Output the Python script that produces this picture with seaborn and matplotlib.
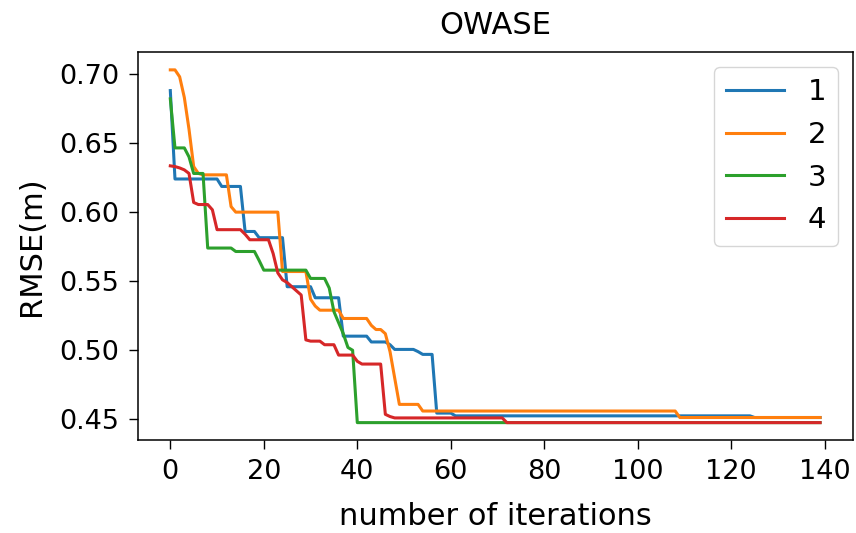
import numpy as np
import pandas as pd
import matplotlib
matplotlib.use("Agg")
import matplotlib.pyplot as plt
import seaborn as sns

# RMSE per iteration for four runs, stored as (level, run length) pairs
n_iter = 140

run1_levels = [0.688, 0.624, 0.6186, 0.586, 0.5815, 0.546, 0.538, 0.5102, 0.506, 0.504,
               0.5006, 0.499, 0.497, 0.4545, 0.4525, 0.4513]
run1_counts = [1, 10, 5, 3, 6, 6, 6, 6, 4, 1, 5, 1, 3, 4, 64, 15]

run2_levels = [0.703, 0.698, 0.683, 0.660, 0.633, 0.628, 0.627, 0.604, 0.600, 0.557,
               0.537, 0.532, 0.529, 0.523, 0.518, 0.515, 0.512, 0.499, 0.480, 0.4608,
               0.456, 0.4513]
run2_counts = [2, 1, 1, 1, 1, 1, 6, 1, 10, 6, 1, 1, 5, 6, 1, 2, 1, 1, 1, 5, 55, 31]

run3_levels = [0.682, 0.6465, 0.640, 0.628, 0.574, 0.5715, 0.565, 0.558, 0.552, 0.545,
               0.528, 0.520, 0.512, 0.502, 0.500, 0.4476]
run3_counts = [1, 3, 1, 3, 6, 5, 1, 10, 4, 1, 1, 1, 1, 1, 1, 100]

run4_levels = [0.6335, 0.633, 0.632, 0.6306, 0.628, 0.607, 0.6055, 0.6017, 0.5873, 0.584,
               0.580, 0.570, 0.556, 0.551, 0.549, 0.546, 0.543, 0.540, 0.5075, 0.5066,
               0.504, 0.4965, 0.492, 0.490, 0.4536, 0.452, 0.451, 0.4476]
run4_counts = [1, 1, 1, 1, 1, 1, 3, 1, 6, 1, 5, 1, 1, 1, 1, 1, 1, 1, 1, 3, 3, 4, 1, 5,
               1, 1, 24, 68]

run_labels = ["1", "2", "3", "4"]
run_colors = ["#1f77b4", "#ff7f0e", "#2ca02c", "#d62728"]

series = [(run1_levels, run1_counts), (run2_levels, run2_counts),
          (run3_levels, run3_counts), (run4_levels, run4_counts)]

frames = []
for label, (levels, counts) in zip(run_labels, series):
    values = np.repeat(levels, counts)
    frames.append(pd.DataFrame({"iteration": np.arange(len(values)),
                                "rmse": values, "run": label}))
df = pd.concat(frames, ignore_index=True)

fig, ax = plt.subplots(figsize=(8.56, 5.33), dpi=100)
fig.subplots_adjust(left=0.161, right=0.996, top=0.902, bottom=0.174)

sns.lineplot(data=df, x="iteration", y="rmse", hue="run",
             hue_order=run_labels, palette=run_colors,
             linewidth=2.2, ax=ax)

ax.set_title("OWASE", fontsize=22, pad=13)
ax.set_xlabel("number of iterations", fontsize=22, labelpad=12)
ax.set_ylabel("RMSE(m)", fontsize=22, labelpad=9)
ax.set_xticks(np.arange(0, 141, 20))
ax.set_yticks([0.45, 0.50, 0.55, 0.60, 0.65, 0.70])
ax.tick_params(labelsize=19.5, length=6.5, width=1.0, pad=7)
for s in ax.spines.values():
    s.set_linewidth(1.1)

handles, labels = ax.get_legend_handles_labels()
ax.legend(handles, labels, loc="upper right", fontsize=21, title=None)

fig.savefig("out.png", dpi=100)
